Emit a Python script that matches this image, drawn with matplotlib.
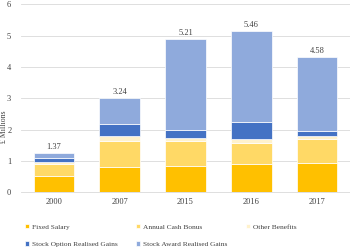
import numpy as np
import matplotlib.pyplot as plt

plt.rcParams['font.family'] = ['Liberation Serif', 'DejaVu Serif']

# data (£ millions)
years = ["2000", "2007", "2015", "2016", "2017"]
fixed_salary = [0.53, 0.82, 0.85, 0.89, 0.93]
cash_bonus = [0.37, 0.83, 0.77, 0.69, 0.76]
other_benefits = [0.05, 0.13, 0.11, 0.13, 0.09]
stock_option = [0.15, 0.39, 0.26, 0.54, 0.16]
stock_award = [0.15, 0.85, 2.90, 2.91, 2.37]
total_labels = ["1.37", "3.24", "5.21", "5.46", "4.58"]

series = [
    ("Fixed Salary", fixed_salary, "#FFC000"),
    ("Annual Cash Bonus", cash_bonus, "#FFD966"),
    ("Other Benefits", other_benefits, "#FFF2CC"),
    ("Stock Option Realised Gains", stock_option, "#4472C4"),
    ("Stock Award Realised Gains", stock_award, "#8FAADC"),
]

fig = plt.figure(figsize=(3.5, 2.49), dpi=100)
ax = fig.add_axes([0.06, 0.228, 0.94, 0.755])

x = np.arange(len(years))
bottom = np.zeros(len(years))
for name, vals, col in series:
    ax.bar(x, vals, bottom=bottom, width=0.62, color=col, label=name,
           edgecolor="white", linewidth=0.5, zorder=3)
    bottom = bottom + np.array(vals)

# total labels above each bar
for xi, top, lab in zip(x, bottom, total_labels):
    ax.text(xi, top + 0.06, lab, ha="center", va="bottom",
            fontsize=6, color="#404040")

ax.set_xlim(-0.5, len(years) - 0.5)
ax.set_ylim(0, 6)
ax.set_yticks(range(0, 7))
ax.set_xticks(x)
ax.set_xticklabels(years)
ax.tick_params(length=0, labelsize=6, colors="#404040")
ax.tick_params(axis="x", pad=4)
ax.tick_params(axis="y", pad=7)
ax.grid(axis="y", color="#D9D9D9", linewidth=0.6, zorder=0)
for s in ["top", "right", "left"]:
    ax.spines[s].set_visible(False)
ax.spines["bottom"].set_color("#D9D9D9")
ax.spines["bottom"].set_linewidth(0.6)

ax.set_ylabel("£ Millions", fontsize=5.6, color="#404040")
ax.yaxis.set_label_coords(-0.041, 0.35)

# legend filled row by row like the original (matplotlib fills by column)
handles, labels = ax.get_legend_handles_labels()
order = [0, 3, 1, 4, 2]
fig.legend([handles[i] for i in order], [labels[i] for i in order],
           loc="upper left", bbox_to_anchor=(0.062, 0.113), ncol=3,
           frameon=False, fontsize=5.3, handlelength=0.55, handleheight=0.55,
           handletextpad=0.4, columnspacing=2.5, borderaxespad=0,
           labelspacing=1.6, labelcolor="#404040")

fig.savefig("out.png", dpi=100)
